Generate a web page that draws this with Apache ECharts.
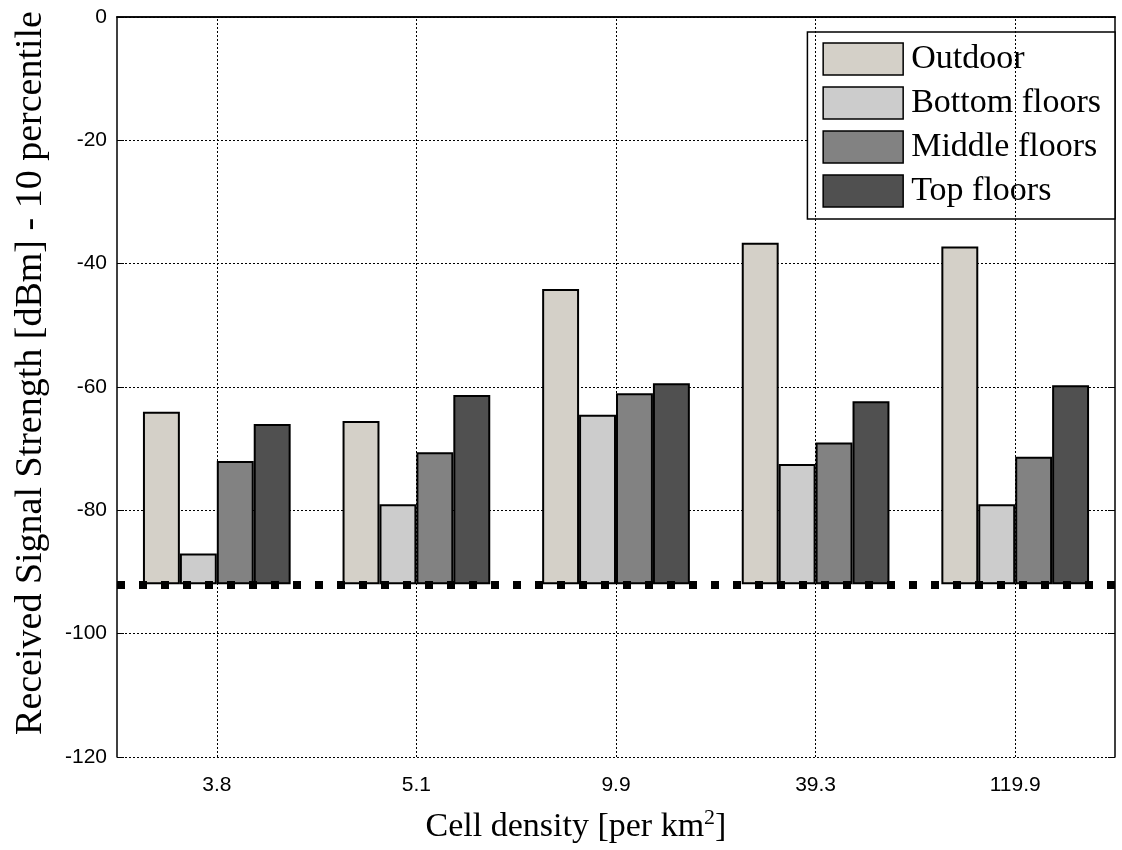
<!DOCTYPE html>
<html><head><meta charset="utf-8">
<script src="https://cdn.jsdelivr.net/npm/echarts@6/dist/echarts.min.js"></script>
<style>html,body{margin:0;padding:0;background:#fff}#c{width:1122px;height:850px}</style>
</head><body><div id="c"></div>
<script>
// ---- data ----
const categories = ['3.8', '5.1', '9.9', '39.3', '119.9'];
const seriesNames = ['Outdoor', 'Bottom floors', 'Middle floors', 'Top floors'];
const outdoor = [-64.0, -65.5, -44.1, -36.6, -37.2];
const bottomFloors = [-87.0, -79.0, -64.5, -72.5, -79.0];
const middleFloors = [-72.0, -70.6, -61.0, -69.0, -71.3];
const topFloors = [-66.0, -61.3, -59.4, -62.3, -59.7];
const threshold = -92;
const yTicks = [-120, -100, -80, -60, -40, -20, 0];

// ---- styling ----
const colors = ['#d4d0c8', '#cccccc', '#828282', '#505050'];
const serif = 'Liberation Serif';
const sans = 'Liberation Sans';
const allValues = [outdoor, bottomFloors, middleFloors, topFloors];

const series = [];
allValues.forEach((vals, k) => {
  series.push({
    type: 'bar', name: '_base' + k, stack: 's' + k, stackStrategy: 'all',
    data: categories.map(() => threshold),
    itemStyle: { color: 'rgba(0,0,0,0)', borderWidth: 0 },
    silent: true, barGap: '0%', barCategoryGap: '26%', z: 2
  });
  series.push({
    type: 'bar', name: seriesNames[k], stack: 's' + k, stackStrategy: 'all',
    data: vals.map(v => v - threshold),
    itemStyle: { color: colors[k], borderColor: '#000', borderWidth: 2 },
    barGap: '0%', barCategoryGap: '26%', z: 3
  });
});
// vertical dotted grid lines at category centres
series.push({
  type: 'line', name: '_vgrid', data: [], z: 1, silent: true,
  markLine: {
    silent: true, symbol: 'none', label: { show: false },
    lineStyle: { color: '#000', type: [2, 2], width: 1 },
    data: categories.map(c => ({ xAxis: c }))
  }
});
// thick dotted threshold line
series.push({
  type: 'line', name: '_thr', data: [], z: 10, silent: true,
  markLine: {
    silent: true, symbol: 'none', label: { show: false },
    lineStyle: { color: '#000', type: [8, 14], width: 8, cap: 'butt' },
    data: [{ yAxis: threshold }]
  }
});

const axisLineStyle = { color: '#000', width: 1.5 };
const option = {
  animation: false,
  backgroundColor: '#fff',
  grid: { left: 117, right: 7, top: 17, bottom: 93, outerBoundsMode: 'none', containLabel: false },
  legend: {
    data: seriesNames, orient: 'vertical', right: 7, top: 32,
    backgroundColor: '#fff', borderColor: '#000', borderWidth: 1.5,
    padding: [10, 14, 11, 15], itemWidth: 80, itemHeight: 32, itemGap: 10,
    icon: 'rect',
    itemStyle: { borderColor: '#000', borderWidth: 1.5 },
    textStyle: { fontFamily: serif, fontSize: 34, lineHeight: 32, color: '#000', padding: [0, 0, 0, 3] }
  },
  xAxis: [{
    type: 'category', data: categories, position: 'bottom',
    axisLine: { lineStyle: axisLineStyle },
    axisTick: { alignWithLabel: true, inside: true, length: 7, lineStyle: { color: '#000' } },
    axisLabel: { color: '#000', fontSize: 21, fontFamily: sans, margin: 18 },
    splitLine: { show: false },
    name: '{a|Cell density [per km}{sup|2}{a|]}',
    nameLocation: 'middle', nameGap: 50,
    nameTextStyle: {
      color: '#000', padding: [0, 80, 0, 0],
      rich: {
        a: { fontFamily: serif, fontSize: 34, color: '#000' },
        sup: { fontFamily: serif, fontSize: 22, color: '#000', verticalAlign: 'top', padding: [0, 0, 18, 0] }
      }
    }
  }, {
    type: 'category', data: categories, position: 'top',
    axisLine: { lineStyle: axisLineStyle },
    axisTick: { alignWithLabel: true, inside: true, length: 7, lineStyle: { color: '#000' } },
    axisLabel: { show: false }, splitLine: { show: false }
  }],
  yAxis: [{
    type: 'value', min: yTicks[0], max: yTicks[yTicks.length - 1], interval: yTicks[1] - yTicks[0],
    axisLine: { show: true, lineStyle: axisLineStyle },
    axisTick: { show: true, inside: true, length: 7, lineStyle: { color: '#000' } },
    axisLabel: { color: '#000', fontSize: 21, fontFamily: sans, margin: 10 },
    splitLine: { show: true, lineStyle: { color: '#000', type: [2, 2], width: 1 } },
    name: 'Received Signal Strength [dBm] - 10 percentile',
    nameLocation: 'middle', nameGap: 67, nameRotate: 90,
    nameTextStyle: { fontFamily: serif, fontSize: 38, color: '#000', padding: [0, 0, 0, 28] }
  }, {
    type: 'value', min: yTicks[0], max: yTicks[yTicks.length - 1], interval: yTicks[1] - yTicks[0],
    position: 'right',
    axisLine: { show: true, lineStyle: axisLineStyle },
    axisTick: { show: true, inside: true, length: 7, lineStyle: { color: '#000' } },
    axisLabel: { show: false }, splitLine: { show: false }
  }],
  series: series
};
const chart = echarts.init(document.getElementById('c'), null, { renderer: 'canvas' });
chart.setOption(option);
</script>
</body></html>
